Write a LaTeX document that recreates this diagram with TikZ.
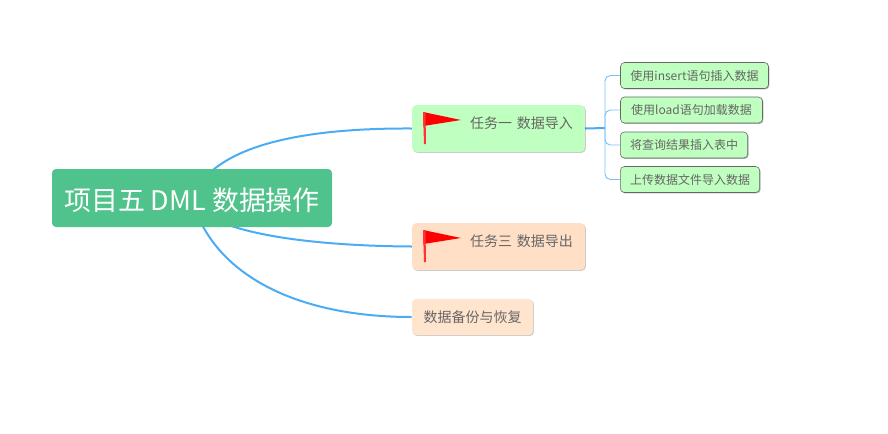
\documentclass[tikz,border=0pt]{standalone}
\usepackage{fontspec}
\setmainfont{Noto Sans CJK SC}
\usetikzlibrary{backgrounds,shadows}
\definecolor{rootgreen}{HTML}{50C28B}
\definecolor{taskgreen}{HTML}{BFFFBF}
\definecolor{taskorange}{HTML}{FFDFC5}
\definecolor{backuporange}{HTML}{FFE4CE}
\definecolor{linkblue}{HTML}{4AACF5}
\definecolor{labelgray}{HTML}{666666}
\tikzset{
  rootbox/.style={fill=rootgreen, rounded corners=3pt, text=white, font=\fontsize{20.2}{22}\selectfont, inner sep=0pt, minimum width=210pt, minimum height=43.5pt, text height=19pt, text depth=0.8pt},
  taskbox/.style={rounded corners=3pt, text=labelgray, font=\fontsize{10.5}{12}\selectfont, inner sep=0pt, minimum height=35pt, text width=111.5pt, align=right, inner xsep=9pt, text height=10pt, text depth=9.5pt, drop shadow={shadow xshift=0.7pt, shadow yshift=-0.7pt, fill=black, opacity=0.2}},
  leafbox/.style={fill=taskgreen, draw=labelgray, rounded corners=3pt, text=labelgray, font=\fontsize{9}{11}\selectfont, inner sep=0pt, minimum height=19.5pt, text height=8pt, text depth=1.2pt, drop shadow={shadow xshift=0.7pt, shadow yshift=-0.7pt, fill=black, opacity=0.3}},
  mainlink/.style={linkblue, line width=1.5pt},
  leaflink/.style={linkblue!75, line width=0.7pt, rounded corners=4pt},
  flagcloth/.style={fill=red, draw=none}
}
\begin{document}
\begin{tikzpicture}[x=0.75pt, y=-0.75pt]
  \useasboundingbox (0, 0) rectangle (888, 433);

  % central topic
  \node[rootbox] (root) at (192, 198) {项目五 DML 数据操作};

  % three branches
  \node[taskbox, fill=taskgreen] (task1) at (498.5, 128.5) {任务一 数据导入};
  \node[taskbox, fill=taskorange] (task3) at (498.5, 246.5) {任务三 数据导出};
  \node[taskbox, fill=backuporange, text width=82.75pt, inner xsep=4pt, align=center, minimum height=27pt, text height=9pt, text depth=1pt] (backup) at (472.5, 317) {数据备份与恢复};

  % leaves of the first task
  \node[leafbox, minimum width=111pt] (leaf1) at (694.5, 75.5) {使用insert语句插入数据};
  \node[leafbox, minimum width=106.5pt] (leaf2) at (691.5, 110) {使用load语句加载数据};
  \node[leafbox, minimum width=95.5pt] (leaf3) at (684, 145) {将查询结果插入表中};
  \node[leafbox, minimum width=104.5pt] (leaf4) at (690, 179.5) {上传数据文件导入数据};

  \coordinate (trunk) at (605, 128);

  % links stay behind the boxes
  \begin{scope}[on background layer]
    \draw[mainlink] (root.center) .. controls (215, 140) and (320, 128) .. (task1.west);
    \draw[mainlink] (root.center) .. controls (205, 235) and (320, 246) .. (task3.west);
    \draw[mainlink] (root.center) .. controls (210, 270) and (290, 317) .. (backup.west);
    \draw[mainlink] (task1.east) -- (trunk);
    \draw[leaflink] (trunk) |- (leaf1.west);
    \draw[leaflink] (trunk) |- (leaf2.west);
    \draw[leaflink] (trunk) |- (leaf3.west);
    \draw[leaflink] (trunk) |- (leaf4.west);
  \end{scope}

  % flags
  \fill[flagcloth] (423, 112) -- (461, 120) -- (423.5, 126) -- cycle;
  \fill[red!80] (423, 112) -- (425.5, 112) -- (426, 144) -- (424, 144) -- cycle;
  \fill[flagcloth] (423, 230) -- (461, 238) -- (423.5, 244) -- cycle;
  \fill[red!80] (423, 230) -- (425.5, 230) -- (426, 262) -- (424, 262) -- cycle;
\end{tikzpicture}
\end{document}
